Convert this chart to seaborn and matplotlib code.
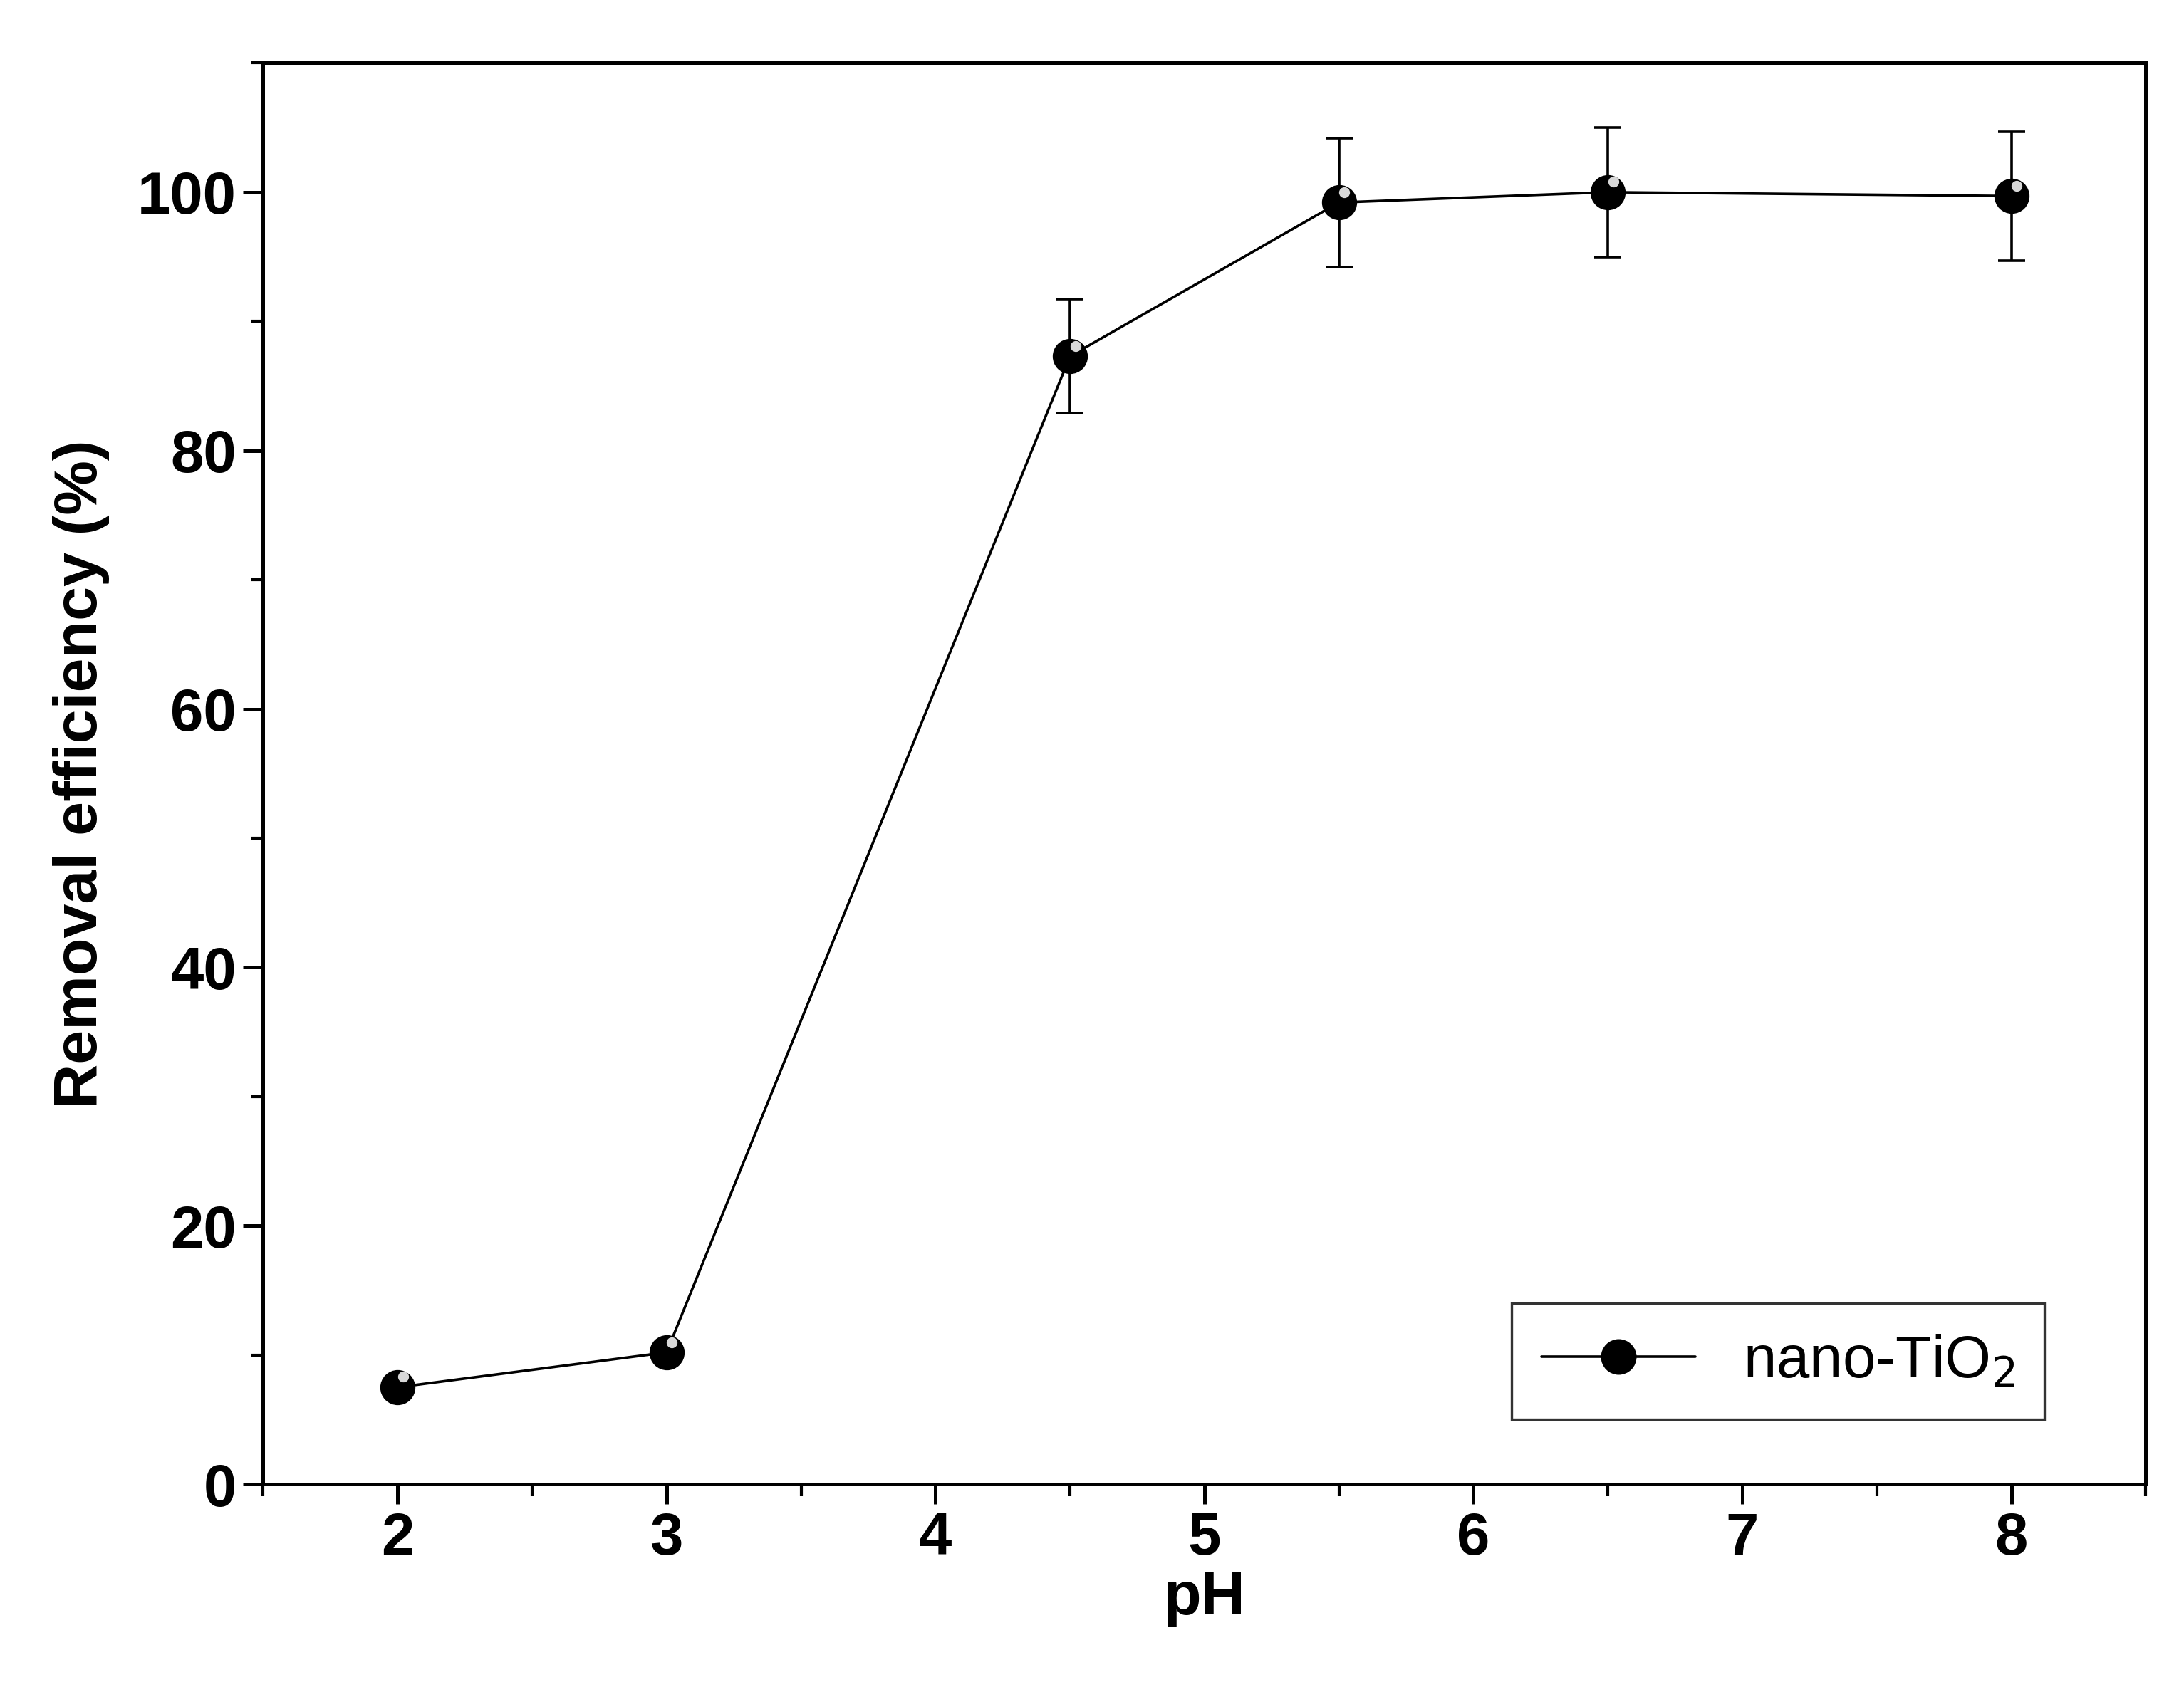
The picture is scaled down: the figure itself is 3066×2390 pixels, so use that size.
import matplotlib
matplotlib.use("Agg")
import matplotlib.pyplot as plt
import seaborn as sns
import pandas as pd
from matplotlib.lines import Line2D

ph = [2, 3, 4.5, 5.5, 6.5, 8]
removal = [7.5, 10.2, 87.3, 99.2, 100.0, 99.7]
err = [0.4, 0.5, 4.4, 5.0, 5.0, 5.0]
df = pd.DataFrame({"pH": ph, "removal": removal, "err": err})

sns.set_theme(style="ticks")
plt.rcParams['font.family'] = ['Liberation Sans', 'DejaVu Sans']
for k in ['text.color', 'axes.labelcolor', 'xtick.color', 'ytick.color', 'axes.edgecolor']:
    plt.rcParams[k] = 'black'

fig = plt.figure(figsize=(15.33, 11.95), dpi=200)
ax = fig.add_axes([0.1205, 0.128, 0.862, 0.835])

ax.errorbar(df["pH"], df["removal"], yerr=df["err"], fmt='none', ecolor='black',
            elinewidth=1.3, capsize=7, capthick=1.3, zorder=2)
sns.lineplot(data=df, x="pH", y="removal", ax=ax, color='black', linewidth=1.3,
             marker='o', markersize=17, markerfacecolor='black', markeredgecolor='black', zorder=3)
ax.plot(df["pH"] + 0.02, df["removal"] + 0.8, 'o', color='#d8d8d8', markersize=4.5, zorder=4)

ax.set_xlim(1.5, 8.5)
ax.set_ylim(0, 110)
ax.set_xticks([2, 3, 4, 5, 6, 7, 8])
ax.set_xticks([1.5 + 0.5 * i for i in range(15)], minor=True)
ax.set_yticks([0, 20, 40, 60, 80, 100])
ax.set_yticks(list(range(0, 111, 10)), minor=True)
ax.tick_params(axis='both', which='major', direction='out', length=10, width=1.8, labelsize=30)
ax.tick_params(axis='both', which='minor', direction='out', length=6, width=1.5)
for lab in ax.get_xticklabels() + ax.get_yticklabels():
    lab.set_fontweight('bold')
for s in ax.spines.values():
    s.set_linewidth(1.8)
ax.set_xlabel("pH", fontsize=31, fontweight='bold', labelpad=2)
ax.set_ylabel("Removal efficiency (%)", fontsize=31, fontweight='bold', labelpad=14)

h = Line2D([], [], color='black', linewidth=1.3, marker='o', markersize=17, markerfacecolor='black')
leg = ax.legend([h], ["nano-TiO$_2$"], loc='lower right', fontsize=30, frameon=True,
                fancybox=False, edgecolor='black', handlelength=2.6,
                bbox_to_anchor=(0.962, 0.025), borderpad=0.5)
leg.get_frame().set_linewidth(1.2)

fig.savefig("out.png", dpi=200)
